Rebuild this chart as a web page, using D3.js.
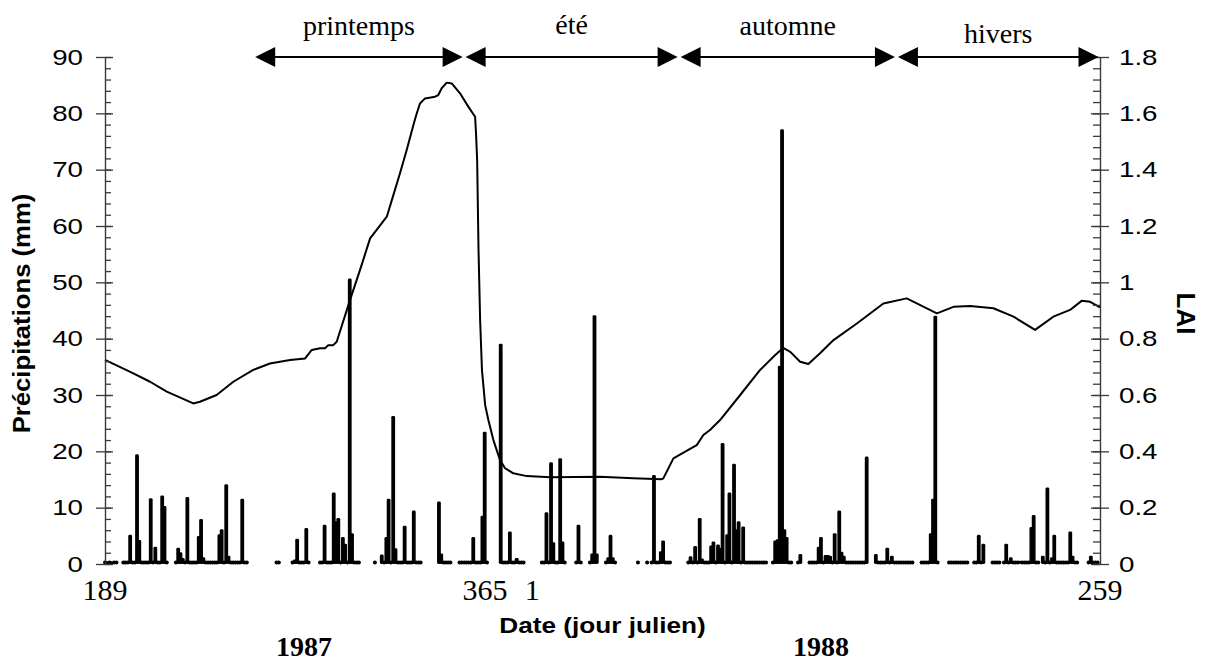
<!DOCTYPE html>
<html>
<head>
<meta charset="utf-8">
<script src="https://cdn.jsdelivr.net/npm/d3@7"></script>
<style>
    body { margin: 0; background: #ffffff; }
</style>
</head>
<body>
<svg id="chart" width="1207" height="664"></svg>
<script>
"use strict";

// days are counted from day 189 of 1987 (0) up to day 259 of 1988 (435)
const dayMin = 0
const dayMax = 435

// x axis labels (julian days) and the years under them
const xTickDays = [0, 176, 177, 435]
const xTickText = ["189", "365", "1", "259"]
const yearDays = [87, 313]
const yearText = ["1987", "1988"]

// seasons shown by the arrows at the top
const seasonNames = ["printemps", "été", "automne", "hivers"]
const seasonBounds = [65, 157, 251, 346, 435]

// axis ticks
const rainMajorTicks = [0, 10, 20, 30, 40, 50, 60, 70, 80, 90]
const laiMajorTicks = [0, 0.2, 0.4, 0.6, 0.8, 1, 1.2, 1.4, 1.6, 1.8]

// periods with rain records (first day, last day)
const obsStart = [0, 8, 31, 75, 82, 94, 118, 121, 146, 155, 173, 191, 206, 212, 219, 233, 237, 239, 255, 256, 292, 303, 308, 337, 357, 369, 380, 388, 393, 404, 410, 430]
const obsEnd = [5, 27, 62, 76, 89, 111, 118, 138, 151, 167, 183, 201, 208, 215, 223, 233, 237, 247, 255, 289, 300, 304, 333, 353, 364, 377, 384, 391, 403, 408, 425, 434]

// rainy days and daily precipitation (mm)
const rainDay = [1, 3, 11, 14, 15, 20, 22, 25, 26,
    32, 33, 34, 36, 41, 42, 43, 50, 51, 53, 54, 60,
    83, 84, 88,
    96, 100, 101, 102, 104, 105, 107, 108,
    121, 123, 124, 126, 127, 131, 135,
    146, 147,
    161, 165, 166,
    173, 177, 180,
    193, 195, 196, 199, 200,
    207, 213, 214, 215, 220, 221, 222,
    240, 243, 244,
    256, 258, 260, 261, 265, 266, 268, 269, 270, 272, 273, 275, 276, 277, 279,
    293, 294, 295, 296, 297, 298, 304,
    312, 313, 315, 316, 317, 319, 321, 322, 323, 333,
    337, 342, 344,
    361, 362, 363, 382, 384,
    394, 396, 400, 405, 406,
    410, 412, 414, 415, 422, 423, 431]
const rainMm = [0.3, 0.3, 5.0, 19.3, 4.1, 11.5, 2.9, 12.0, 10.1,
    2.7, 1.9, 0.9, 11.7, 4.8, 7.8, 1.0, 5.1, 6.0, 14.0, 1.3, 11.4,
    0.6, 4.3, 6.2,
    6.8, 12.5, 7.4, 8.0, 4.6, 3.4, 50.5, 5.3,
    1.5, 4.6, 11.4, 26.1, 2.6, 6.6, 9.3,
    10.9, 1.7,
    4.6, 8.4, 23.3,
    38.9, 5.6, 0.9,
    9.0, 17.9, 3.7, 18.6, 3.8,
    6.8, 1.7, 44.0, 1.7, 1.0, 5.0, 1.0,
    15.6, 2.1, 4.0,
    1.2, 3.0, 8.0, 0.8, 3.1, 3.8, 3.3, 2.7, 21.3, 5.1, 12.5, 17.6, 6.0, 7.4, 6.5,
    4.0, 4.2, 35.0, 77.0, 6.0, 4.6, 1.6,
    2.9, 4.6, 1.4, 1.4, 1.3, 5.3, 9.3, 2.0, 1.3, 18.9,
    1.6, 2.7, 1.3,
    5.3, 11.4, 43.9, 5.0, 3.4,
    3.4, 1.0, 0.4, 6.4, 8.5,
    1.3, 13.4, 1.0, 5.0, 5.6, 1.3, 1.3]

// leaf area index curve
const laiDay = [0, 12.4, 19.7, 27.0, 38.6, 41.5, 48.8, 56.1, 64.8, 72.1, 80.9, 87.5, 90.4, 94.0, 96.2, 97.6, 99.8, 101.3,
    107.1, 111.5, 115.9, 123.2, 125.4, 129.0, 131.9, 134.8, 136.3, 137.7, 139.9, 144.3, 145.7, 147.2, 149.4, 151.6,
    155.2, 158.9, 161.8, 162.2, 162.7, 163.3, 164.0, 164.8, 166.2, 167.6, 169.8, 172.7, 174.9, 178.5, 184.4, 194.6,
    216.4, 230.9, 243.4, 244.1, 248.5, 252.9, 258.7, 261.6, 264.5, 268.9, 277.7, 286.4, 293.0, 296.5, 299.6, 303.9,
    307.5, 312.6, 318.5, 328.7, 340.3, 350.5, 363.7, 370.9, 378.2, 388.4, 397.2, 406.6, 414.6, 421.9, 427.1, 430.7, 435]
const laiValue = [0.725, 0.677, 0.647, 0.612, 0.570, 0.576, 0.600, 0.647, 0.689, 0.712, 0.724, 0.730, 0.760, 0.766, 0.766, 0.777, 0.777, 0.789,
    0.937, 1.044, 1.156, 1.233, 1.292, 1.388, 1.470, 1.558, 1.600, 1.635, 1.653, 1.659, 1.665, 1.689, 1.709, 1.706,
    1.671, 1.623, 1.588, 1.530, 1.434, 1.115, 0.866, 0.689, 0.564, 0.511, 0.440, 0.369, 0.340, 0.322, 0.312, 0.308,
    0.310, 0.304, 0.301, 0.304, 0.375, 0.395, 0.422, 0.458, 0.476, 0.511, 0.600, 0.689, 0.742, 0.767, 0.753, 0.718,
    0.710, 0.748, 0.795, 0.854, 0.925, 0.943, 0.890, 0.913, 0.916, 0.908, 0.878, 0.831, 0.878, 0.902, 0.935, 0.931, 0.911]

//---------------------------------------------------------------

const svg = d3.select("#chart")
const sansFont = "'Liberation Sans', Arial, sans-serif"
const serifFont = "'Liberation Serif', 'Times New Roman', serif"
const axisColor = "#3a3a3a"

const x = d3.scaleLinear().domain([dayMin, dayMax]).range([105, 1100])
const yRain = d3.scaleLinear().domain([0, 90]).range([564, 57])
const yLai = d3.scaleLinear().domain([0, 1.8]).range([564, 57])

// style one axis group
function styleAxis(g) {
    g.select(".domain").attr("stroke", axisColor).attr("stroke-width", 1.4)
    g.selectAll(".tick line").attr("stroke", axisColor).attr("stroke-width", 1.3)
}

// Left axis: precipitation
function addRainAxis() {
    let left = x.range()[0]
    let minor = svg.append("g")
        .attr("transform", "translate(" + left + ",0)")
        .call(d3.axisLeft(yRain).tickValues(d3.range(0, 91, 2)).tickSize(-6).tickSizeOuter(0).tickFormat(""))
    styleAxis(minor)

    let major = svg.append("g")
        .attr("transform", "translate(" + left + ",0)")
        .call(d3.axisLeft(yRain).tickValues(rainMajorTicks).tickSize(9).tickSizeOuter(0))
    major.select(".domain").remove()
    major.selectAll(".tick line").attr("x1", 8)
    styleAxis(major)
    major.selectAll(".tick text")
        .attr("x", null)
        .attr("transform", "translate(-22,0) scale(1.26,1)")
        .style("font-family", sansFont)
        .style("font-size", "22px")
        .attr("fill", "#000")
}

// Right axis: LAI
function addLaiAxis() {
    let right = x.range()[1]
    let minor = svg.append("g")
        .attr("transform", "translate(" + right + ",0)")
        .call(d3.axisRight(yLai).tickValues(d3.range(0, 1.801, 0.04)).tickSize(-7).tickSizeOuter(0).tickFormat(""))
    styleAxis(minor)

    let major = svg.append("g")
        .attr("transform", "translate(" + right + ",0)")
        .call(d3.axisRight(yLai).tickValues(laiMajorTicks).tickSize(9).tickSizeOuter(0)
            .tickFormat(function (d) { return String(d) }))
    major.select(".domain").remove()
    major.selectAll(".tick line").attr("x1", -9)
    styleAxis(major)
    major.selectAll(".tick text")
        .attr("x", null)
        .attr("transform", "translate(19,0) scale(1.26,1)")
        .style("font-family", sansFont)
        .style("font-size", "22px")
        .attr("fill", "#000")
}

// x labels, years and the axis titles
function addLabels() {
    let base = yRain(0)
    xTickDays.forEach(function (day, i) {
        let anchor = "middle"
        let shift = 0
        if (xTickText[i] === "365") { anchor = "end" }
        if (xTickText[i] === "1") { anchor = "start"; shift = 15 }
        svg.append("text")
            .attr("x", x(day) + shift)
            .attr("y", base + 36)
            .attr("text-anchor", anchor)
            .style("font-family", serifFont)
            .style("font-size", "30px")
            .text(xTickText[i])
    })

    yearDays.forEach(function (day, i) {
        svg.append("text")
            .attr("x", x(day))
            .attr("y", base + 92)
            .attr("text-anchor", "middle")
            .style("font-family", serifFont)
            .style("font-size", "28px")
            .style("font-weight", "bold")
            .text(yearText[i])
    })

    let mid = (x.range()[0] + x.range()[1]) / 2
    svg.append("text")
        .attr("transform", "translate(" + mid + "," + (base + 69) + ") scale(1.19,1)")
        .attr("text-anchor", "middle")
        .style("font-family", sansFont)
        .style("font-size", "22px")
        .style("font-weight", "bold")
        .text("Date (jour julien)")

    let midY = (yRain.range()[0] + yRain.range()[1]) / 2
    svg.append("text")
        .attr("transform", "translate(30," + (midY + 3) + ") rotate(-90) scale(1.07,1)")
        .attr("text-anchor", "middle")
        .style("font-family", sansFont)
        .style("font-size", "24px")
        .style("font-weight", "bold")
        .text("Précipitations (mm)")

    svg.append("text")
        .attr("transform", "translate(1177," + (midY + 3) + ") rotate(90)")
        .attr("text-anchor", "middle")
        .style("font-family", sansFont)
        .style("font-size", "26px")
        .style("font-weight", "bold")
        .text("LAI")
}

// Season arrows above the plot
function addSeasons() {
    let yArrow = yRain(90)
    let lift = [22, 23, 22, 14]
    let g = svg.append("g")
    seasonNames.forEach(function (name, i) {
        let x1 = x(seasonBounds[i]) + 1.5
        let x2 = x(seasonBounds[i + 1]) - 1.5
        g.append("line")
            .attr("x1", x1 + 10).attr("x2", x2 - 10)
            .attr("y1", yArrow).attr("y2", yArrow)
            .attr("stroke", "#000")
            .attr("stroke-width", 2)
        g.append("path")
            .attr("d", "M" + x1 + "," + yArrow + "L" + (x1 + 20) + "," + (yArrow - 10) + "L" + (x1 + 20) + "," + (yArrow + 10) + "Z")
            .attr("fill", "#000")
        g.append("path")
            .attr("d", "M" + x2 + "," + yArrow + "L" + (x2 - 20) + "," + (yArrow - 10) + "L" + (x2 - 20) + "," + (yArrow + 10) + "Z")
            .attr("fill", "#000")
        g.append("text")
            .attr("x", (x1 + x2) / 2)
            .attr("y", yArrow - lift[i])
            .attr("text-anchor", "middle")
            .style("font-family", serifFont)
            .style("font-size", "28px")
            .text(name)
    })
}

// Daily precipitation: bars for rain, dots for dry recorded days
function addRain() {
    let rainData = rainDay.map(function (d, i) { return { day: d, mm: rainMm[i] } })
    let rainSet = new Set(rainDay)
    let dryDays = []
    obsStart.forEach(function (s, i) {
        d3.range(s, obsEnd[i] + 1).forEach(function (d) {
            if (!rainSet.has(d)) { dryDays.push(d) }
        })
    })

    svg.append("g").selectAll("circle")
        .data(dryDays)
        .join("circle")
        .attr("cx", function (d) { return x(d) })
        .attr("cy", yRain(0) - 1.5)
        .attr("r", 2)
        .attr("fill", "#000")

    svg.append("g").selectAll("rect")
        .data(rainData)
        .join("rect")
        .attr("x", function (d) { return x(d.day) - 1.9 })
        .attr("width", 3.8)
        .attr("y", function (d) { return yRain(d.mm) - 1 })
        .attr("height", function (d) { return yRain(0) - yRain(d.mm) + 1 })
        .attr("rx", 1.4)
        .attr("fill", "#000")
}

// LAI curve
function addLaiLine() {
    let laiData = laiDay.map(function (d, i) { return { day: d, lai: laiValue[i] } })
    svg.append("path")
        .datum(laiData)
        .attr("fill", "none")
        .attr("stroke", "#000")
        .attr("stroke-width", 2)
        .attr("stroke-linejoin", "round")
        .attr("d", d3.line()
            .x(function (d) { return x(d.day) })
            .y(function (d) { return yLai(d.lai) })
        )
}

addRain()
addLaiLine()
addRainAxis()
addLaiAxis()
addSeasons()
addLabels()
</script>
</body>
</html>
